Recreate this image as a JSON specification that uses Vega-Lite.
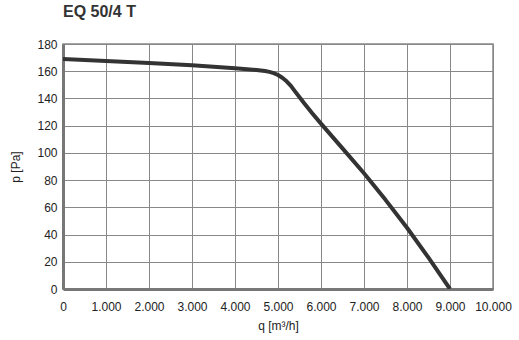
{
  "$schema": "https://vega.github.io/schema/vega-lite/v6.json",
  "width": 430,
  "height": 245,
  "autosize": {"type": "none"},
  "padding": {"left": 63, "top": 44, "right": 26, "bottom": 51},
  "background": "white",
  "title": {
    "text": "EQ 50/4 T",
    "anchor": "start",
    "frame": "group",
    "font": "Liberation Sans",
    "fontSize": 16,
    "fontWeight": "bold",
    "color": "#333",
    "offset": 18,
    "dx": 0
  },
  "data": {
    "values": [
      {"q": 0, "p": 169},
      {"q": 1000, "p": 167.6},
      {"q": 2000, "p": 166.1},
      {"q": 3000, "p": 164.4},
      {"q": 4000, "p": 162.2},
      {"q": 4500, "p": 160.9},
      {"q": 4700, "p": 160.1},
      {"q": 4800, "p": 159.5},
      {"q": 4900, "p": 158.6},
      {"q": 5000, "p": 157.2},
      {"q": 5100, "p": 155.2},
      {"q": 5200, "p": 152.6},
      {"q": 5300, "p": 149.2},
      {"q": 5400, "p": 145},
      {"q": 5600, "p": 136.8},
      {"q": 5800, "p": 129},
      {"q": 6000, "p": 121.5},
      {"q": 6500, "p": 103.3},
      {"q": 7000, "p": 85},
      {"q": 7500, "p": 65.5},
      {"q": 8000, "p": 45},
      {"q": 8500, "p": 23},
      {"q": 9000, "p": 0}
    ]
  },
  "mark": {"type": "line", "color": "#333", "strokeWidth": 4, "interpolate": "linear", "strokeJoin": "round", "clip": true},
  "encoding": {
    "x": {
      "field": "q",
      "type": "quantitative",
      "scale": {"domain": [0, 10000], "nice": false},
      "axis": {
        "title": "q [m³/h]",
        "values": [0, 1000, 2000, 3000, 4000, 5000, 6000, 7000, 8000, 9000, 10000],
        "labelExpr": "replace(format(datum.value, ','), ',', '.')",
        "tickSize": 0,
        "labelPadding": 12,
        "titlePadding": 8,
        "domainColor": "#777",
        "domainWidth": 3,
        "gridColor": "#888",
        "gridOpacity": 1,
        "gridWidth": 1,
        "labelFont": "Liberation Sans",
        "labelFontSize": 12,
        "labelColor": "#222",
        "titleFont": "Liberation Sans",
        "titleFontSize": 12,
        "titleFontWeight": "normal",
        "titleColor": "#222",
        "labelFlush": false,
        "labelOverlap": false
      }
    },
    "y": {
      "field": "p",
      "type": "quantitative",
      "scale": {"domain": [0, 180], "nice": false},
      "axis": {
        "title": "p [Pa]",
        "values": [0, 20, 40, 60, 80, 100, 120, 140, 160, 180],
        "tickSize": 0,
        "labelPadding": 6,
        "titlePadding": 14,
        "domainColor": "#777",
        "domainWidth": 3,
        "gridColor": "#888",
        "gridOpacity": 1,
        "gridWidth": 1,
        "labelFont": "Liberation Sans",
        "labelFontSize": 12,
        "labelColor": "#222",
        "titleFont": "Liberation Sans",
        "titleFontSize": 12,
        "titleFontWeight": "normal",
        "titleColor": "#222",
        "labelFlush": false,
        "labelOverlap": false
      }
    }
  },
  "config": {
    "view": {"stroke": "#888", "strokeWidth": 1.5}
  }
}
